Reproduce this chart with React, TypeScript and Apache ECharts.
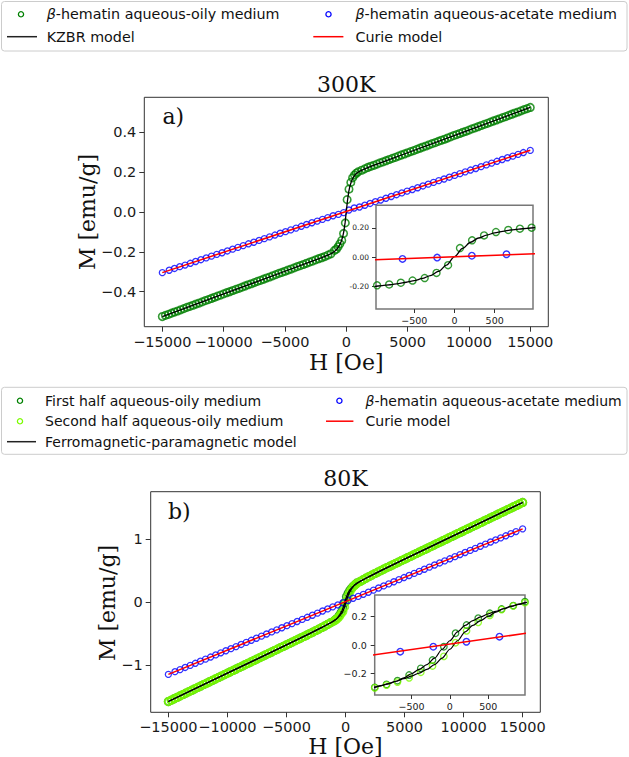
import React, { useEffect, useRef } from 'react';
import * as echarts from 'echarts';

// ---------- data ----------
// shared field grid for |H| >= 1250 Oe
const H_OUTER_NEG = [-15000,-14750,-14500,-14250,-14000,-13750,-13500,-13250,-13000,-12750,-12500,-12250,-12000,-11750,-11500,-11250,-11000,-10750,-10500,-10250,-10000,-9750,-9500,-9250,-9000,-8750,-8500,-8250,-8000,-7750,-7500,-7250,-7000,-6750,-6500,-6250,-6000,-5750,-5500,-5250,-5000,-4750,-4500,-4250,-4000,-3750,-3500,-3250,-3000,-2750,-2500,-2250,-2000,-1750,-1500,-1250];
const H_OUTER_POS = [1250,1500,1750,2000,2250,2500,2750,3000,3250,3500,3750,4000,4250,4500,4750,5000,5250,5500,5750,6000,6250,6500,6750,7000,7250,7500,7750,8000,8250,8500,8750,9000,9250,9500,9750,10000,10250,10500,10750,11000,11250,11500,11750,12000,12250,12500,12750,13000,13250,13500,13750,14000,14250,14500,14750,15000];

// 300K, aqueous-oily medium
const M_A_OUTER_NEG = [-0.526,-0.520,-0.515,-0.509,-0.503,-0.498,-0.492,-0.486,-0.480,-0.475,-0.469,-0.463,-0.458,-0.452,-0.446,-0.441,-0.435,-0.429,-0.423,-0.418,-0.412,-0.406,-0.401,-0.395,-0.389,-0.384,-0.378,-0.372,-0.366,-0.361,-0.355,-0.349,-0.344,-0.338,-0.332,-0.327,-0.321,-0.315,-0.309,-0.304,-0.298,-0.292,-0.287,-0.281,-0.275,-0.270,-0.264,-0.258,-0.252,-0.247,-0.241,-0.235,-0.230,-0.224,-0.217,-0.210];
const M_A_OUTER_POS = [0.210,0.217,0.224,0.230,0.235,0.241,0.247,0.252,0.258,0.264,0.270,0.275,0.281,0.287,0.292,0.298,0.304,0.309,0.315,0.321,0.327,0.332,0.338,0.344,0.349,0.355,0.361,0.366,0.372,0.378,0.384,0.389,0.395,0.401,0.406,0.412,0.418,0.423,0.429,0.435,0.441,0.446,0.452,0.458,0.463,0.469,0.475,0.480,0.486,0.492,0.498,0.503,0.509,0.515,0.520,0.526];
const H_INSET_A = [-963,-813,-668,-522,-371,-224,-80,68,219,368,516,669,814,960];
const M_INSET_A = [-0.193,-0.187,-0.175,-0.160,-0.143,-0.108,-0.055,0.062,0.115,0.149,0.172,0.186,0.195,0.202];

// 80K, aqueous-oily medium (first / second half of the loop)
const M_B_OUTER_NEG = [-1.580,-1.558,-1.535,-1.513,-1.490,-1.468,-1.445,-1.423,-1.400,-1.378,-1.355,-1.333,-1.310,-1.288,-1.265,-1.243,-1.220,-1.198,-1.175,-1.153,-1.130,-1.108,-1.085,-1.063,-1.040,-1.018,-0.995,-0.973,-0.950,-0.928,-0.905,-0.883,-0.860,-0.838,-0.815,-0.793,-0.770,-0.748,-0.725,-0.703,-0.680,-0.658,-0.635,-0.613,-0.590,-0.568,-0.545,-0.523,-0.499,-0.476,-0.452,-0.429,-0.404,-0.380,-0.354,-0.328];
const M_B_OUTER_POS = [0.328,0.354,0.380,0.404,0.429,0.452,0.476,0.499,0.523,0.545,0.568,0.590,0.613,0.635,0.658,0.680,0.703,0.725,0.748,0.770,0.793,0.815,0.838,0.860,0.883,0.905,0.928,0.950,0.973,0.995,1.018,1.040,1.063,1.085,1.108,1.130,1.153,1.175,1.198,1.220,1.243,1.265,1.288,1.310,1.333,1.355,1.378,1.400,1.423,1.445,1.468,1.490,1.513,1.535,1.558,1.580];
const H_INSET_B = [-979,-826,-683,-531,-379,-226,-78,74,218,370,522,675,827,979];
const M_B_FIRST_INSET = [-0.299,-0.278,-0.252,-0.212,-0.165,-0.106,-0.012,0.083,0.141,0.189,0.224,0.254,0.278,0.306];
const M_B_SECOND_INSET = [-0.302,-0.283,-0.262,-0.232,-0.192,-0.148,-0.080,0.016,0.100,0.160,0.210,0.250,0.276,0.299];

// aqueous-acetate medium
const H_BLUE = [-15000,-14439,-14008,-13577,-13146,-12715,-12284,-11853,-11422,-10991,-10560,-10129,-9698,-9267,-8836,-8405,-7974,-7543,-7112,-6681,-6250,-5819,-5388,-4957,-4526,-4095,-3664,-3233,-2802,-2371,-1940,-1509,-1078,-647,-216,216,647,1078,1509,1940,2371,2802,3233,3664,4095,4526,4957,5388,5819,6250,6681,7112,7543,7974,8405,8836,9267,9698,10129,10560,10991,11422,11853,12284,12715,13146,13577,14008,14439,15000];
const M_BLUE_A = [-0.305,-0.293,-0.284,-0.275,-0.267,-0.258,-0.249,-0.240,-0.231,-0.222,-0.213,-0.205,-0.196,-0.187,-0.178,-0.169,-0.160,-0.152,-0.143,-0.134,-0.125,-0.116,-0.107,-0.099,-0.090,-0.081,-0.072,-0.063,-0.054,-0.046,-0.037,-0.028,-0.019,-0.012,-0.003,0.010,0.020,0.025,0.034,0.043,0.052,0.060,0.069,0.078,0.087,0.096,0.105,0.113,0.122,0.131,0.140,0.149,0.158,0.166,0.175,0.184,0.193,0.202,0.211,0.219,0.228,0.237,0.246,0.255,0.264,0.273,0.281,0.290,0.299,0.310];
const M_BLUE_B = [-1.149,-1.106,-1.073,-1.039,-1.006,-0.973,-0.940,-0.907,-0.874,-0.840,-0.807,-0.774,-0.741,-0.708,-0.674,-0.641,-0.608,-0.575,-0.542,-0.508,-0.475,-0.442,-0.409,-0.376,-0.343,-0.309,-0.276,-0.243,-0.210,-0.177,-0.143,-0.110,-0.077,-0.047,-0.012,0.023,0.059,0.089,0.122,0.155,0.189,0.222,0.255,0.288,0.321,0.355,0.388,0.421,0.454,0.487,0.520,0.554,0.587,0.620,0.653,0.686,0.720,0.753,0.786,0.819,0.852,0.885,0.919,0.952,0.985,1.018,1.051,1.085,1.118,1.161];

// models
const H_MODEL = [-15000,-10000,-5000,-3000,-2000,-1500,-1200,-1000,-900,-800,-700,-600,-500,-400,-300,-200,-100,0,100,200,300,400,500,600,700,800,900,1000,1200,1500,2000,3000,5000,10000,15000];
const M_KZBR_A = [-0.526,-0.412,-0.298,-0.252,-0.230,-0.217,-0.208,-0.200,-0.195,-0.189,-0.181,-0.172,-0.161,-0.146,-0.126,-0.098,-0.055,0.003,0.060,0.102,0.131,0.151,0.166,0.177,0.186,0.192,0.197,0.202,0.208,0.217,0.230,0.252,0.298,0.412,0.526];
const M_FP_B_UPPER = [-1.580,-1.130,-0.680,-0.499,-0.404,-0.354,-0.322,-0.300,-0.288,-0.274,-0.256,-0.232,-0.203,-0.172,-0.138,-0.093,-0.030,0.030,0.092,0.138,0.172,0.198,0.220,0.238,0.256,0.272,0.287,0.301,0.326,0.354,0.404,0.499,0.680,1.130,1.580];
const M_FP_B_LOWER = [-1.580,-1.130,-0.680,-0.499,-0.404,-0.354,-0.326,-0.301,-0.287,-0.272,-0.256,-0.238,-0.220,-0.198,-0.172,-0.138,-0.092,-0.030,0.030,0.093,0.138,0.172,0.203,0.232,0.256,0.274,0.288,0.300,0.322,0.354,0.404,0.499,0.680,1.130,1.580];
const H_CURIE = [-15000, 15000];
const M_CURIE_A = [-0.305, 0.311];
const M_CURIE_B = [-1.149, 1.161];

// tick labels
const TICKS_H_MAIN = [-15000, -10000, -5000, 0, 5000, 10000, 15000];
const TICKS_H_INSET = [-500, 0, 500];
const TICKS_M_A = [-0.4, -0.2, 0, 0.2, 0.4];
const TICKS_M_B = [-1, 0, 1];
const TICKS_M_INSET = [-0.2, 0, 0.2];

// ---------- helpers ----------
const SANS = "'DejaVu Sans', sans-serif";
const SERIF = "'DejaVu Serif', serif";
const GREEN = '#008000';
const LIGHT = '#7CFC00';
const BLUE = '#0000FF';
const RED = '#FF0000';

const pts = (hs: number[], ms: number[]) => {
  const n = Math.min(hs.length, ms.length);
  const out: number[][] = [];
  for (let i = 0; i < n; i++) out.push([hs[i], ms[i]]);
  return out;
};
const uminus = (d: number) => (v: number) => (v < 0 ? '\u2212' : '') + Math.abs(v).toFixed(d);
const hyph = (d: number) => (v: number) => (v < 0 ? '-' : '') + Math.abs(v).toFixed(d);

function axis(gridIndex: number, min: number, max: number, ticks: number[], fmt: any, fontSize: number, margin: number, tickLen: number, z: number) {
  return {
    type: 'value', gridIndex, min, max, z,
    splitLine: { show: false },
    axisLine: { show: false, onZero: false },
    axisTick: { show: true, inside: false, length: tickLen, customValues: ticks, lineStyle: { color: '#333', width: 1 } },
    axisLabel: { show: true, customValues: ticks, formatter: fmt, fontSize, fontFamily: SANS, color: '#1a1a1a', margin },
  };
}

function scatter(name: string, xi: number, data: number[][], color: string, size: number, bw: number, z: number) {
  return {
    type: 'scatter', name, xAxisIndex: xi, yAxisIndex: xi, data, z,
    symbol: 'circle', symbolSize: size,
    itemStyle: { color: 'rgba(0,0,0,0)', borderColor: color, borderWidth: bw },
    emphasis: { disabled: true }, silent: true,
  };
}
function line(name: string, xi: number, data: number[][], color: string, width: number, z: number, smooth: number | boolean) {
  return {
    type: 'line', name, xAxisIndex: xi, yAxisIndex: xi, data, z,
    showSymbol: false, symbol: 'none', smooth, smoothMonotone: 'x',
    lineStyle: { color, width }, emphasis: { disabled: true }, silent: true, clip: true,
  };
}

function txt(x: number, y: number, text: string, font: string, size: number, align = 'left', rotation = 0, rich?: any, lh?: number) {
  return {
    type: 'text', x, y, rotation, silent: true,
    style: {
      text, fontFamily: font, fontSize: size, fill: '#111', lineHeight: lh ?? size,
      align, verticalAlign: 'middle', textAlign: align, textVerticalAlign: 'middle',
      rich,
    },
  };
}
const betaRich = (size: number) => ({ i: { fontStyle: 'italic', fontFamily: SANS, fontSize: size, fill: '#111' } });
const circ = (cx: number, cy: number, color: string) => ({ type: 'circle', silent: true, shape: { cx, cy, r: 2.6 }, style: { fill: 'rgba(0,0,0,0)', stroke: color, lineWidth: 1.3 } });
const seg = (x1: number, x2: number, y: number, color: string) => ({ type: 'line', silent: true, shape: { x1, y1: y, x2, y2: y }, style: { stroke: color, lineWidth: 1.5 } });
const box = (y: number, h: number) => ({ type: 'rect', silent: true, shape: { x: 1.5, y, width: 625.5, height: h, r: 3 }, style: { fill: '#fff', stroke: '#cccccc', lineWidth: 1 } });

// ---------- option ----------
const greenA = [...pts(H_OUTER_NEG, M_A_OUTER_NEG), ...pts(H_INSET_A, M_INSET_A), ...pts(H_OUTER_POS, M_A_OUTER_POS)];
const firstB = [...pts(H_OUTER_NEG, M_B_OUTER_NEG), ...pts(H_INSET_B, M_B_FIRST_INSET), ...pts(H_OUTER_POS, M_B_OUTER_POS)];
const secondB = [...pts(H_OUTER_NEG, M_B_OUTER_NEG), ...pts(H_INSET_B, M_B_SECOND_INSET), ...pts(H_OUTER_POS, M_B_OUTER_POS)];
const blueA = pts(H_BLUE, M_BLUE_A);
const blueB = pts(H_BLUE, M_BLUE_B);
const kzbr = pts(H_MODEL, M_KZBR_A);
const fpUp = pts(H_MODEL, M_FP_B_UPPER);
const fpLow = pts(H_MODEL, M_FP_B_LOWER);
const curieA = pts(H_CURIE, M_CURIE_A);
const curieB = pts(H_CURIE, M_CURIE_B);

const option: any = {
  animation: false,
  backgroundColor: '#ffffff',
  grid: [
    { left: 144.3, top: 97.3, width: 404, height: 229.4, show: true, borderColor: '#333', borderWidth: 1, backgroundColor: 'rgba(0,0,0,0)', containLabel: false, outerBoundsMode: 'none', z: 1 },
    { left: 376, top: 205.3, width: 157, height: 103.7, show: true, borderColor: '#777', borderWidth: 1.5, backgroundColor: '#ffffff', containLabel: false, outerBoundsMode: 'none', z: 10 },
    { left: 150.7, top: 491.7, width: 389.6, height: 220.6, show: true, borderColor: '#333', borderWidth: 1, backgroundColor: 'rgba(0,0,0,0)', containLabel: false, outerBoundsMode: 'none', z: 1 },
    { left: 374.7, top: 595, width: 150.3, height: 100, show: true, borderColor: '#777', borderWidth: 1.5, backgroundColor: '#ffffff', containLabel: false, outerBoundsMode: 'none', z: 10 },
  ],
  xAxis: [
    axis(0, -16470, 16470, TICKS_H_MAIN, uminus(0), 14.5, 8, 5, 1),
    axis(1, -977, 977, TICKS_H_INSET, uminus(0), 9.5, 6.5, 4, 11),
    axis(2, -16495, 16495, TICKS_H_MAIN, uminus(0), 14.5, 7, 5, 1),
    axis(3, -980, 980, TICKS_H_INSET, uminus(0), 9.5, 6.5, 4, 11),
  ],
  yAxis: [
    axis(0, -0.577, 0.577, TICKS_M_A, uminus(1), 14.5, 8, 5, 1),
    axis(1, -0.355, 0.355, TICKS_M_INSET, hyph(2), 7.5, 7, 4, 11),
    axis(2, -1.751, 1.751, TICKS_M_B, uminus(0), 14.5, 8, 5, 1),
    axis(3, -0.353, 0.353, TICKS_M_INSET, uminus(1), 9.5, 8, 4, 11),
  ],
  series: [
    // panel a main
    scatter('β-hematin aqueous-oily medium', 0, greenA, GREEN, 7.5, 1.6, 2),
    scatter('β-hematin aqueous-acetate medium', 0, blueA, BLUE, 6, 1.3, 2),
    line('KZBR model', 0, kzbr, '#000', 1.3, 3, false),
    line('Curie model', 0, curieA, RED, 1.5, 3, false),
    // panel a inset
    scatter('a-inset-green', 1, greenA, GREEN, 7, 1.4, 12),
    scatter('a-inset-blue', 1, blueA, BLUE, 6.5, 1.4, 12),
    line('a-inset-kzbr', 1, kzbr, '#000', 1.3, 13, 0.3),
    line('a-inset-curie', 1, curieA, RED, 1.5, 13, false),
    // panel b main
    scatter('First half aqueous-oily medium', 2, firstB, GREEN, 7.5, 1.6, 2),
    scatter('Second half aqueous-oily medium', 2, secondB, LIGHT, 7.5, 1.9, 2),
    scatter('β-hematin aqueous-acetate medium (80K)', 2, blueB, BLUE, 6, 1.3, 2),
    line('Ferromagnetic-paramagnetic model', 2, fpUp, '#000', 1.3, 3, false),
    line('Ferromagnetic-paramagnetic model (2)', 2, fpLow, '#000', 1.3, 3, false),
    line('Curie model (80K)', 2, curieB, RED, 1.5, 3, false),
    // panel b inset
    scatter('b-inset-first', 3, firstB, GREEN, 6.5, 1.3, 12),
    scatter('b-inset-second', 3, secondB, LIGHT, 6.5, 1.3, 12),
    scatter('b-inset-blue', 3, blueB, BLUE, 6.5, 1.4, 12),
    line('b-inset-up', 3, fpUp, '#000', 1.2, 13, 0.3),
    line('b-inset-low', 3, fpLow, '#000', 1.2, 13, 0.3),
    line('b-inset-curie', 3, curieB, RED, 1.5, 13, false),
  ],
  graphic: [
    // legend a
    box(1.5, 49.5),
    circ(21, 14.3, GREEN),
    txt(46.7, 14.3, '{i|β}-hematin aqueous-oily medium', SANS, 14.3, 'left', 0, betaRich(14.3)),
    seg(7, 37, 36.7, '#222'),
    txt(46.7, 36.7, 'KZBR model', SANS, 14.3),
    circ(328.5, 14.3, BLUE),
    txt(355.4, 14.3, '{i|β}-hematin aqueous-acetate medium', SANS, 14.3, 'left', 0, betaRich(14.3)),
    seg(313.3, 343.4, 36.7, RED),
    txt(355.4, 36.7, 'Curie model', SANS, 14.3),
    // panel a texts
    txt(346.3, 84, '300K', SERIF, 22, 'center'),
    txt(162.5, 116, 'a)', SERIF, 22, 'left'),
    txt(346.3, 362, 'H [Oe]', SERIF, 22, 'center'),
    txt(87, 212, 'M [emu/g]', SERIF, 22, 'center', Math.PI / 2),
    // legend b
    box(387.3, 67),
    circ(20, 400.7, GREEN),
    txt(45, 400.7, 'First half aqueous-oily medium', SANS, 14),
    circ(20, 421.2, LIGHT),
    txt(45, 421.2, 'Second half aqueous-oily medium', SANS, 14),
    seg(7, 36, 441.7, '#222'),
    txt(45, 441.7, 'Ferromagnetic-paramagnetic model', SANS, 14),
    circ(339.4, 400.7, BLUE),
    txt(365.5, 400.7, '{i|β}-hematin aqueous-acetate medium', SANS, 14, 'left', 0, betaRich(14)),
    seg(326, 353.4, 421.2, RED),
    txt(365.5, 421.2, 'Curie model', SANS, 14),
    // panel b texts
    txt(345.5, 478.3, '80K', SERIF, 22, 'center'),
    txt(168, 511.7, 'b)', SERIF, 22, 'left'),
    txt(345.5, 746, 'H [Oe]', SERIF, 22, 'center', 0, undefined, 16),
    txt(107.5, 603, 'M [emu/g]', SERIF, 22, 'center', Math.PI / 2),
  ],
};

export default function App() {
  const ref = useRef<HTMLDivElement>(null);
  useEffect(() => {
    const el = ref.current;
    if (!el) return;
    const chart = echarts.init(el, null, { renderer: 'svg' });
    chart.setOption(option);
    return () => chart.dispose();
  }, []);
  return (
    <div
      ref={ref}
      style={{ position: 'fixed', left: 0, top: 0, width: 629, height: 757, background: '#fff' }}
    />
  );
}
